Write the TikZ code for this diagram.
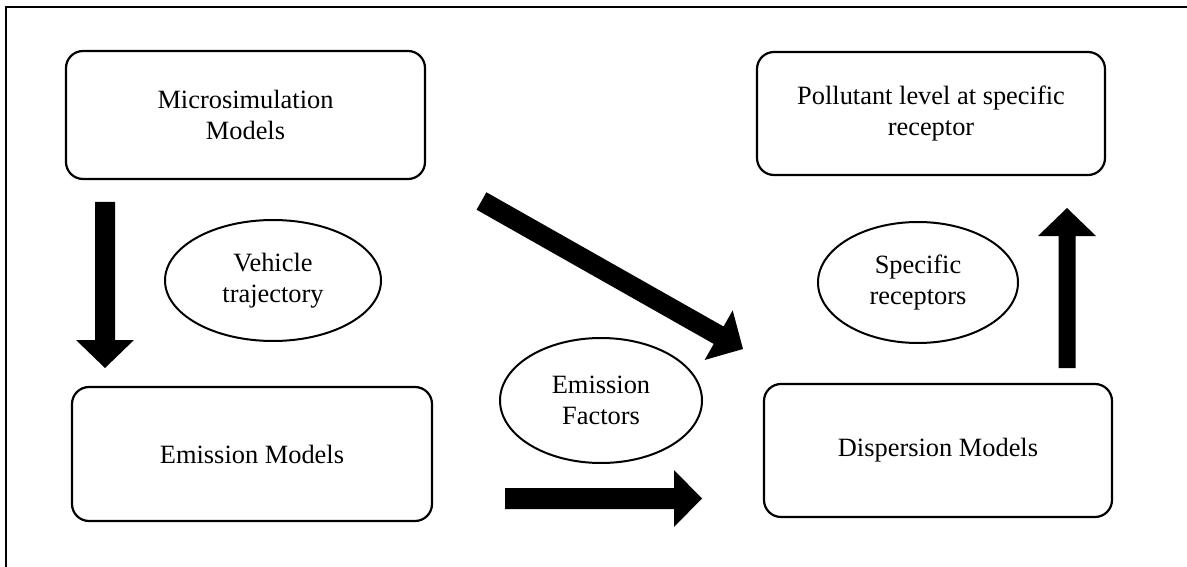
\documentclass[tikz,border=0pt]{standalone}
\usepackage{fontspec}
\setmainfont{Liberation Serif}
\usetikzlibrary{calc,shapes.geometric}
\newcommand{\fatarrow}[4]{%
  \coordinate (fa-h) at ($(#2)!28pt!(#1)$);
  \fill[black] ($(#1)!#3!90:(#2)$) -- ($(fa-h)!#3!90:(#2)$) -- ($(fa-h)!#4!90:(#2)$) -- (#2)
    -- ($(fa-h)!#4!-90:(#2)$) -- ($(fa-h)!#3!-90:(#2)$) -- ($(#1)!#3!-90:(#2)$) -- cycle;}
\begin{document}
\begin{tikzpicture}[x=1pt,y=-1pt,
  box/.style={draw, line width=2.2pt, rounded corners=17pt, align=center, inner sep=0pt,
    font=\fontsize{26.4}{31}\selectfont},
  oval/.style={draw, ellipse, line width=2pt, align=center, inner sep=0pt,
    font=\fontsize{26.4}{31}\selectfont}]
\useasboundingbox (0,0) rectangle (1187,567);
\clip (0,0) rectangle (1187,567);
\fill[white] (0,0) rectangle (1187,567);
\draw[line width=2.6pt] (6,600) -- (6,7) -- (1220,7);

\node[box, minimum width=359pt, minimum height=128pt] (micro) at (245.5,115) {Microsimulation\\Models};
\node[box, minimum width=348pt, minimum height=123pt] (poll) at (931,113.5) {Pollutant level at specific\\receptor};
\node[box, minimum width=360pt, minimum height=134pt] (emis) at (252,454) {Emission Models};
\node[box, minimum width=348pt, minimum height=133pt] (disp) at (938,450.5) {Dispersion Models};

\node[oval, minimum width=216pt, minimum height=121pt] (veh) at (273,280.5) {Vehicle\\trajectory};
\node[oval, minimum width=202pt, minimum height=125pt] (ef) at (601,400.5) {Emission\\Factors};
\node[oval, minimum width=200pt, minimum height=121pt] (spec) at (918,282.5) {Specific\\receptors};

\coordinate (a1s) at (105,202);  \coordinate (a1e) at (105,368);
\coordinate (a2s) at (481.5,201); \coordinate (a2e) at (743,349);
\coordinate (a3s) at (505,498.5); \coordinate (a3e) at (702,498.5);
\coordinate (a4s) at (1067,368); \coordinate (a4e) at (1067,208);

\fatarrow{a1s}{a1e}{10pt}{29pt}
\fatarrow{a2s}{a2e}{10pt}{28.5pt}
\fatarrow{a3s}{a3e}{10.5pt}{28.5pt}
\fatarrow{a4s}{a4e}{8.5pt}{29pt}
\end{tikzpicture}
\end{document}
